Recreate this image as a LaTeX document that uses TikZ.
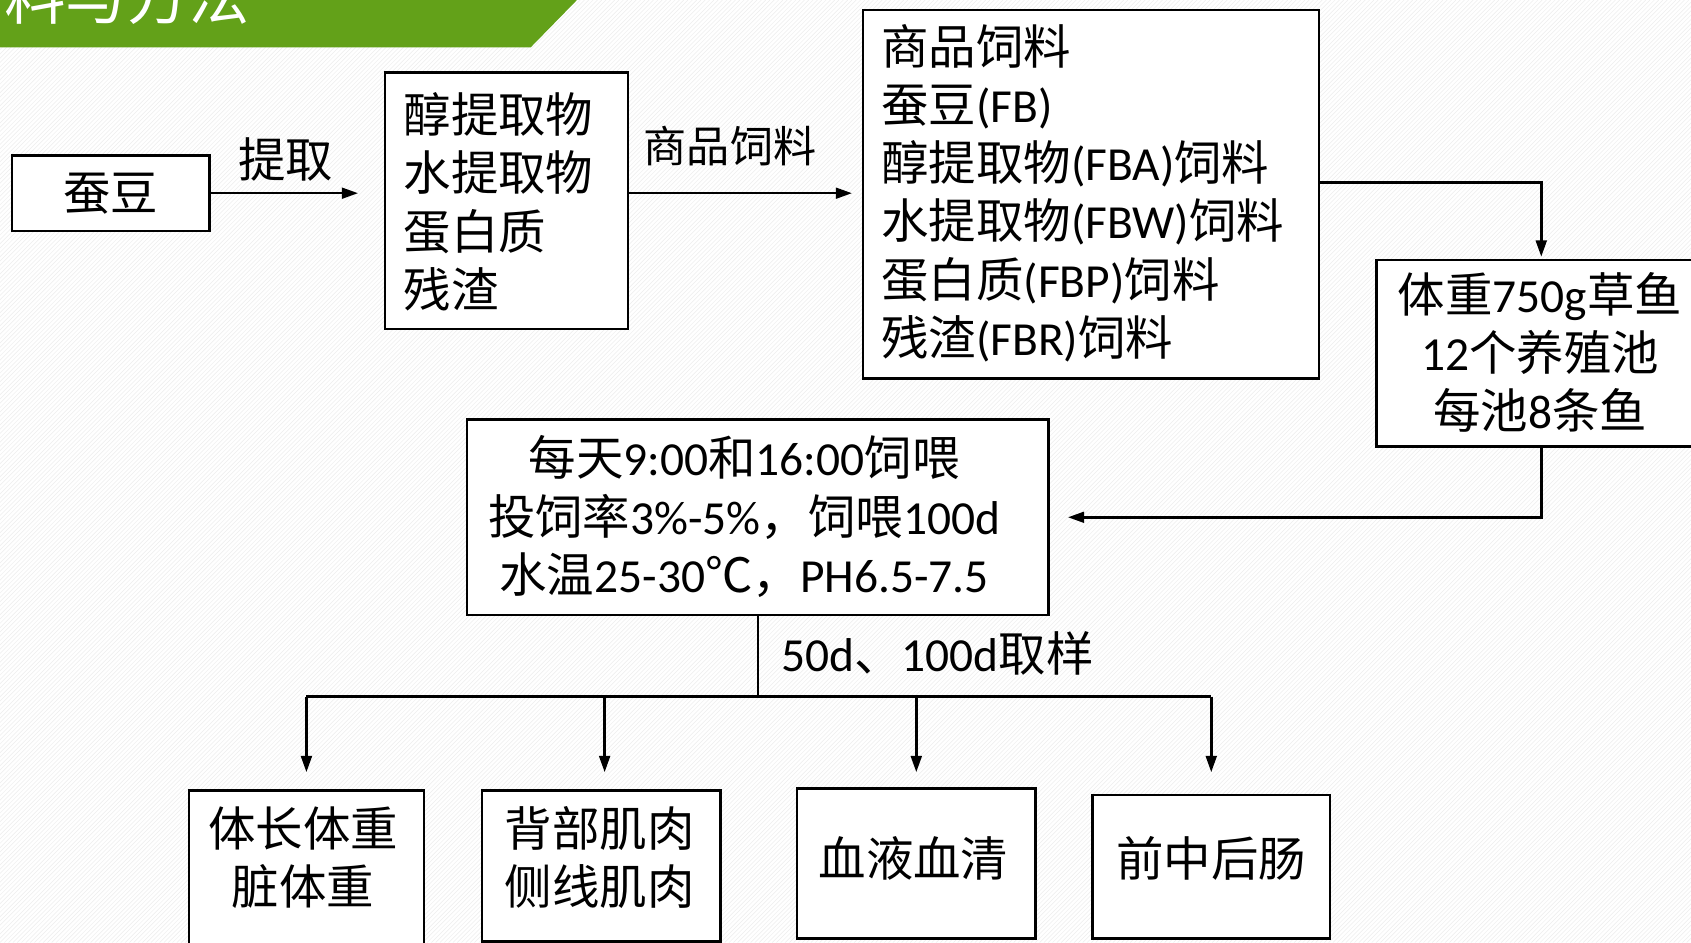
\documentclass[tikz,border=0pt]{standalone}
\usepackage{fontspec}
\setmainfont{Noto Sans CJK SC}
\newfontfamily\lat{Carlito}
\usetikzlibrary{arrows.meta}
\definecolor{banner}{RGB}{99,161,25}
\newcommand\la[1]{{\lat #1}}
\tikzset{
  box/.style={draw=black, line width=2.3pt, fill=white, inner sep=0pt},
  conn/.style={line width=2.3pt, -{Triangle[length=15pt,width=10pt]}},
  plainline/.style={line width=2.3pt},
  txt/.style={inner sep=0pt, font=\fontsize{44}{54}\selectfont},
  lbl/.style={inner sep=0pt, font=\fontsize{44}{54}\selectfont},
  bgline/.style={gray!14, line width=0.45pt},
}
\begin{document}
\begin{tikzpicture}[x=1pt,y=-1pt]
\useasboundingbox (0,0) rectangle (1568,874);
\fill[white] (0,0) rectangle (1568,874);
\begin{scope}
  \clip (0,0) rectangle (1568,874);
  \foreach \i in {-880,-876,...,1568} \draw[bgline] (\i,874) -- ++(874,-874);
\end{scope}
% banner
\fill[banner] (0,0) -- (535,0) -- (492,44) -- (0,44) -- cycle;
\begin{scope}
  \clip (0,0) -- (535,0) -- (492,44) -- (0,44) -- cycle;
  \node[anchor=base east, text=white, inner sep=0pt, font=\fontsize{57}{57}\selectfont] (title) at (232,18) {材料与方法};
\end{scope}
% boxes
\node[box, anchor=north west, minimum width=183pt, minimum height=70pt] (cd) at (10,143) {};
\node[txt] (cdT) at (cd.center) {蚕豆};
\node[box, anchor=north west, minimum width=225pt, minimum height=238pt] (ext) at (356,66) {};
\node[txt, align=left, anchor=west] (extT) at (374,187) {醇提取物\\水提取物\\蛋白质\\残渣};
\node[box, anchor=north west, minimum width=423pt, minimum height=342pt] (big) at (799,8) {};
\node[txt, align=left, anchor=west] (bigT) at (817,179) {商品饲料\\蚕豆\la{(FB)}\\醇提取物\la{(FBA)}饲料\\水提取物\la{(FBW)}饲料\\蛋白质\la{(FBP)}饲料\\残渣\la{(FBR)}饲料};
\node[box, anchor=north west, minimum width=310pt, minimum height=173pt] (fish) at (1275,240) {};
\node[txt, align=center] (fishT) at (1428,327) {体重\la{750g}草鱼\\\la{12}个养殖池\\每池\la{8}条鱼};
\node[box, anchor=north west, minimum width=539pt, minimum height=181pt] (feed) at (432,388) {};
\node[txt, align=center] (feedT) at (690,479) {每天\la{9:00}和\la{16:00}饲喂\\投饲率\la{3\%-5\%}，饲喂\la{100d}\\水温\la{25-30}℃，\la{PH6.5-7.5}};
\node[box, anchor=north west, minimum width=218pt, minimum height=150pt] (A) at (174,732) {};
\node[txt, align=center] (AT) at (281,795) {体长体重\\脏体重};
\node[box, anchor=north west, minimum width=221pt, minimum height=140pt] (B) at (446,732) {};
\node[txt, align=center] (BT) at (556,795) {背部肌肉\\侧线肌肉};
\node[box, anchor=north west, minimum width=221pt, minimum height=139pt] (C) at (738,730) {};
\node[txt] (CT) at (847,796) {血液血清};
\node[box, anchor=north west, minimum width=220pt, minimum height=133pt] (D) at (1012,736) {};
\node[txt] (DT) at (1123,796) {前中后肠};
% labels
\node[lbl] (l1) at (265,148) {提取};
\node[lbl, font=\fontsize{40}{48}\selectfont] (l2) at (677,135) {商品饲料};
\node[lbl, anchor=west] (l3) at (724,606) {\la{50d}、\la{100d}取样};
% connectors
\coordinate (bus) at (702,646);
\draw[conn, shorten >=24pt] (cd.east) -- (cd.east -| ext.west);
\draw[conn, shorten >=9pt] (ext.east |- cd.east) -- (big.west |- cd.east);
\draw[conn, shorten >=2pt] ([yshift=11pt,xshift=-2pt]big.east -| fish.north) ++(0,0) coordinate (tmp) (big.east |- tmp) -- (tmp) -- ([xshift=-2pt]fish.north);
\draw[conn, shorten >=17pt] ([xshift=-2pt]fish.south) |- (feed.east);
\draw[plainline] (feed.south) -- (feed.south |- bus);
\draw[plainline] (A.north |- bus) -- (D.north |- bus);
\draw[conn, shorten >=16pt] (A.north |- bus) -- (A.north);
\draw[conn, shorten >=16pt] ([xshift=3pt]B.north |- bus) -- ([xshift=3pt]B.north);
\draw[conn, shorten >=14pt] (C.north |- bus) -- (C.north);
\draw[conn, shorten >=20pt] (D.north |- bus) -- (D.north);
\end{tikzpicture}
\end{document}
